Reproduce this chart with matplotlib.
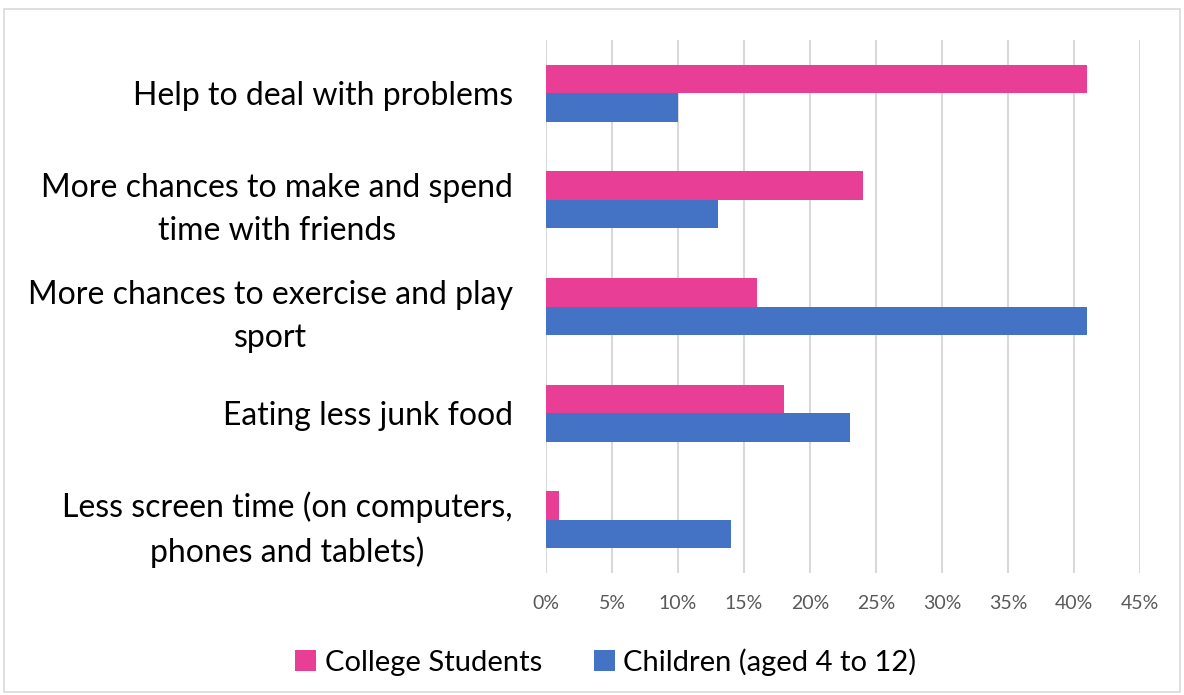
import matplotlib
matplotlib.use("Agg")
import matplotlib.pyplot as plt
from matplotlib.patches import Rectangle
import numpy as np

categories = [
    "Help to deal with problems",
    "More chances to make and spend\ntime with friends",
    "More chances to exercise and play\nsport",
    "Eating less junk food",
    "Less screen time (on computers,\nphones and tablets)",
]
college = [41, 24, 16, 18, 1]
children = [10, 13, 41, 23, 14]
series_names = ["College Students", "Children (aged 4 to 12)"]
xticks = [0, 5, 10, 15, 20, 25, 30, 35, 40, 45]

pink = "#E83E96"
blue = "#4472C4"

plt.rcParams['font.family'] = ['Lato', 'DejaVu Sans']

fig = plt.figure(figsize=(11.84, 6.95), dpi=100)
ax = fig.add_axes([546/1184, 1-573/695, (1140-546)/1184, (573-40)/695])

y = np.arange(len(categories))
h = 0.268
ax.barh(y - h/2, college, height=h, color=pink, label=series_names[0], zorder=3)
ax.barh(y + h/2, children, height=h, color=blue, label=series_names[1], zorder=3)

ax.set_ylim(len(categories) - 0.5, -0.5)
ax.set_xlim(0, 45)
ax.set_xticks(xticks)
ax.set_xticklabels([f"{t}%" for t in xticks], color="#595959", fontsize=14)
ax.set_yticks(y)
ax.set_yticklabels(categories, fontsize=23, color="black", linespacing=1.55)
ax.tick_params(axis='both', length=0)
ax.tick_params(axis='x', pad=16)
ax.tick_params(axis='y', pad=24)
for lab in ax.get_yticklabels():
    lab.set_horizontalalignment('right')
    lab.set_multialignment('center')
ax.grid(axis='x', color="#D9D9D9", linewidth=1.5, zorder=0)
for s in ax.spines.values():
    s.set_visible(False)

leg = fig.legend(loc='center', bbox_to_anchor=(606/1184, 1-662/695), ncol=2, frameon=False,
                 fontsize=21, handlelength=0.7, handleheight=0.7, handletextpad=0.3,
                 columnspacing=1.8)

fig.patches.append(Rectangle((4/1184, 1-692/695), 1176/1184, 683/695, transform=fig.transFigure,
                             fill=False, edgecolor="#D9D9D9", linewidth=1.2))

fig.savefig("out.png", dpi=100, facecolor="white")
